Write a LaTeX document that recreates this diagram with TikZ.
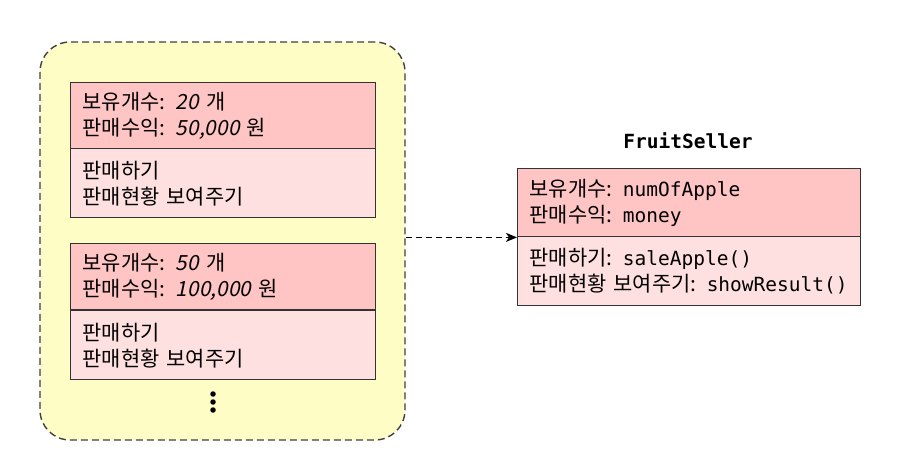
\documentclass[tikz,border=0pt]{standalone}
\usepackage{fontspec}
\usepackage{xcolor}
\usepackage{tikz}
\usetikzlibrary{arrows.meta,positioning}
\setmainfont{Noto Sans CJK KR}
\setmonofont{DejaVu Sans Mono}
\newfontfamily\numit[FakeSlant=0.2]{Noto Sans CJK KR}
\newcommand{\code}[1]{{\fontsize{19.5}{26}\ttfamily #1}}
\definecolor{attrred}{HTML}{FFC4C4}
\definecolor{methpink}{HTML}{FFE0E0}
\definecolor{poolyellow}{HTML}{FFFDC6}

\begin{document}
\begin{tikzpicture}[x=1pt,y=-1pt,%
% common options for the upper (field) part:
attr/.style = {draw=black!80, line width=1.4pt, fill=attrred, align=left,
            anchor=north west, minimum height=66pt, inner xsep=12pt,
            font=\fontsize{20.9}{26}\selectfont},
% common options for the lower (method) part:
meth/.style = {attr, fill=methpink, minimum height=69pt},
% the dashed pool of objects:
pool/.style = {draw=black!75, line width=1.4pt, dash pattern=on 7pt off 4pt,
            fill=poolyellow, rounded corners=30pt,
            minimum width=365pt, minimum height=398pt},
dot/.style = {circle, fill=black, inner sep=0, minimum size=5.5pt}]
\useasboundingbox (0,0) rectangle (908,454);
\node[pool] (pool) at (222.5,241) {};
% first object
\node[attr,text width=281pt] (objAattr) at (70,82)
  {보유개수: {\numit 20} 개\\판매수익: {\numit 50,000} 원};
\node[meth,text width=281pt] (objAmeth) at (70,148)
  {판매하기\\판매현황 보여주기};
% second object
\node[attr,text width=281pt] (objBattr) at (70,243)
  {보유개수: {\numit 50} 개\\판매수익: {\numit 100,000} 원};
\node[meth,text width=281pt] (objBmeth) at (70,310)
  {판매하기\\판매현황 보여주기};
\node[dot] (dotA) at (213,394) {};
\node[dot] (dotB) at (213,402) {};
\node[dot] (dotC) at (213,410) {};
% the class
\node[font=\fontsize{19.5}{24}\ttfamily\bfseries] (clsname) at (688,141) {FruitSeller};
\node[attr,text width=319pt,minimum height=68pt] (clsattr) at (517,168)
  {보유개수: \code{numOfApple}\\판매수익: \code{money}};
\node[meth,text width=319pt] (clsmeth) at (517,236)
  {판매하기: \code{saleApple()}\\판매현황 보여주기: \code{showResult()}};
\draw[line width=1.3pt, dash pattern=on 6pt off 4pt,
      -{Stealth[length=11pt,width=9pt,inset=3pt]}]
  (pool.east |- clsattr.south west) -- (clsattr.south west);
\end{tikzpicture}
\end{document}
